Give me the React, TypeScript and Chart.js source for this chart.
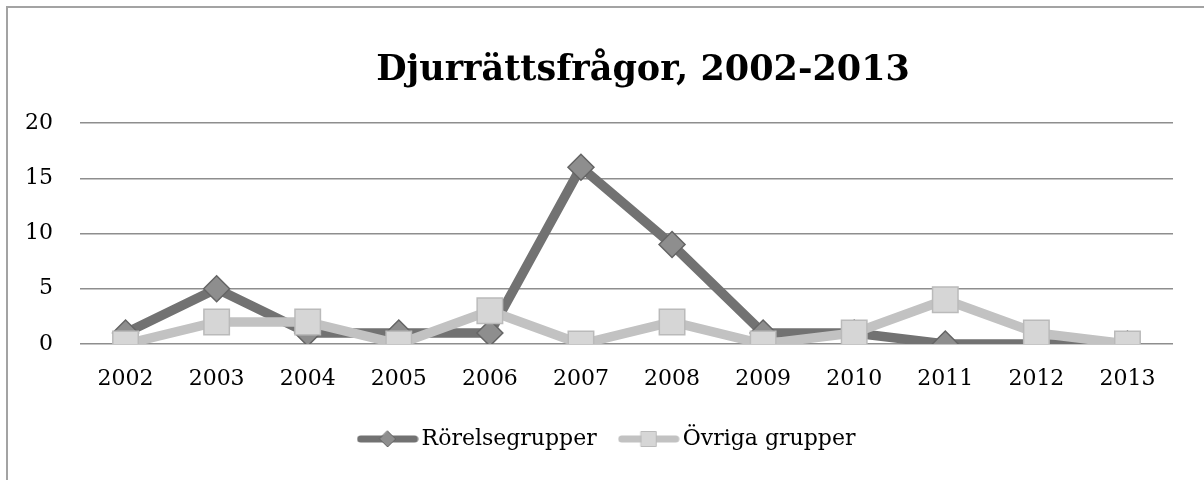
import React, { useEffect, useRef } from 'react';
import { Chart, registerables } from 'chart.js';

Chart.register(...registerables);

const categories = ['2002', '2003', '2004', '2005', '2006', '2007', '2008', '2009', '2010', '2011', '2012', '2013'];
const rorelsegrupper = [1, 5, 1, 1, 1, 16, 9, 1, 1, 0, 0, 0];
const ovrigaGrupper = [0, 2, 2, 0, 3, 0, 2, 0, 1, 4, 1, 0];
const seriesNames = ['Rörelsegrupper', 'Övriga grupper'];
const yMin = 0;
const yMax = 20;
const yStep = 5;
const titleText = 'Djurrättsfrågor, 2002-2013';

const FONT = '"DejaVu Serif", serif';
const DARK_LINE = '#727272';
const DARK_FILL = '#8e8e8e';
const DARK_EDGE = '#656565';
const LIGHT_LINE = '#c2c2c2';
const LIGHT_FILL = '#d6d6d6';
const LIGHT_EDGE = '#bababa';

function makeLegendImage(line: string, fill: string, edge: string, marker: 'diamond' | 'square') {
  const c = document.createElement('canvas');
  c.width = 62;
  c.height = 24;
  const ctx = c.getContext('2d')!;
  ctx.strokeStyle = line;
  ctx.lineWidth = 7;
  ctx.lineCap = 'round';
  ctx.beginPath();
  ctx.moveTo(4, 12);
  ctx.lineTo(58, 12);
  ctx.stroke();
  ctx.fillStyle = fill;
  ctx.strokeStyle = edge;
  ctx.lineWidth = 1;
  ctx.beginPath();
  if (marker === 'diamond') {
    ctx.moveTo(31, 4);
    ctx.lineTo(39, 12);
    ctx.lineTo(31, 20);
    ctx.lineTo(23, 12);
    ctx.closePath();
  } else {
    ctx.rect(23.5, 4.5, 15, 15);
  }
  ctx.fill();
  ctx.stroke();
  return c;
}

const titlePlugin = {
  id: 'customTitle',
  afterDraw(chart: any) {
    const ctx = chart.ctx;
    ctx.save();
    ctx.font = `bold 35px ${FONT}`;
    ctx.fillStyle = '#000';
    ctx.textAlign = 'center';
    ctx.textBaseline = 'alphabetic';
    ctx.fillText(titleText, 643, 80);
    ctx.restore();
  },
};

export default function App() {
  const ref = useRef<HTMLCanvasElement>(null);

  useEffect(() => {
    if (!ref.current) return;
    const imgs = [
      makeLegendImage(DARK_LINE, DARK_FILL, DARK_EDGE, 'diamond'),
      makeLegendImage(LIGHT_LINE, LIGHT_FILL, LIGHT_EDGE, 'square'),
    ];
    const chart = new Chart(ref.current, {
      type: 'line',
      data: {
        labels: categories,
        datasets: [
          {
            label: seriesNames[0],
            data: rorelsegrupper,
            borderColor: DARK_LINE,
            borderWidth: 9.5,
            pointStyle: 'rectRot',
            pointRadius: 13,
            pointHoverRadius: 13,
            pointBackgroundColor: DARK_FILL,
            pointBorderColor: DARK_EDGE,
            pointBorderWidth: 1.5,
            tension: 0,
            order: 2,
          },
          {
            label: seriesNames[1],
            data: ovrigaGrupper,
            borderColor: LIGHT_LINE,
            borderWidth: 9.5,
            pointStyle: 'rect',
            pointRadius: 18,
            pointHoverRadius: 18,
            pointBackgroundColor: LIGHT_FILL,
            pointBorderColor: LIGHT_EDGE,
            pointBorderWidth: 1.5,
            tension: 0,
            order: 1,
          },
        ],
      },
      options: {
        animation: false,
        responsive: false,
        layout: { padding: { top: 123, right: 0, bottom: 20, left: 16 } },
        plugins: {
          title: { display: false },
          tooltip: { enabled: false },
          legend: {
            position: 'bottom',
            labels: {
              usePointStyle: true,
              pointStyleWidth: 46,
              padding: 29,
              color: '#000',
              font: { family: FONT, size: 22 },
              generateLabels: (ch: any) =>
                ch.data.datasets.map((ds: any, i: number) => ({
                  text: ds.label,
                  pointStyle: imgs[i],
                  fillStyle: ds.borderColor,
                  strokeStyle: ds.borderColor,
                  lineWidth: 0,
                  hidden: false,
                  datasetIndex: i,
                  fontColor: '#000',
                })),
            },
          },
        },
        scales: {
          x: {
            offset: true,
            grid: { display: false },
            border: { display: false },
            ticks: { color: '#000', font: { family: FONT, size: 22 }, padding: 14, maxRotation: 0 },
            afterFit: (s: any) => {
              s.height = 55;
            },
          },
          y: {
            min: yMin,
            max: yMax,
            grid: { color: '#8e8e8e', lineWidth: 1.5, drawTicks: false },
            border: { display: false },
            ticks: { stepSize: yStep, color: '#000', font: { family: FONT, size: 22 }, padding: 27 },
            afterFit: (s: any) => {
              s.width = 64;
            },
          },
          yRight: {
            type: 'linear',
            position: 'right',
            display: true,
            grid: { display: false },
            border: { display: false },
            ticks: { display: false },
            afterFit: (s: any) => {
              s.width = 31;
            },
          },
        },
      },
      plugins: [titlePlugin],
    });
    return () => chart.destroy();
  }, []);

  return (
    <div style={{ position: 'absolute', left: 0, top: 0, width: 1204, height: 480, overflow: 'hidden', background: '#fff' }}>
      <div
        style={{
          position: 'absolute',
          left: 6,
          top: 6,
          width: 1400,
          height: 700,
          border: '2px solid #a3a3a3',
          boxSizing: 'border-box',
        }}
      />
      <canvas ref={ref} width={1204} height={480} style={{ position: 'absolute', left: 0, top: 0, width: 1204, height: 480 }} />
    </div>
  );
}
